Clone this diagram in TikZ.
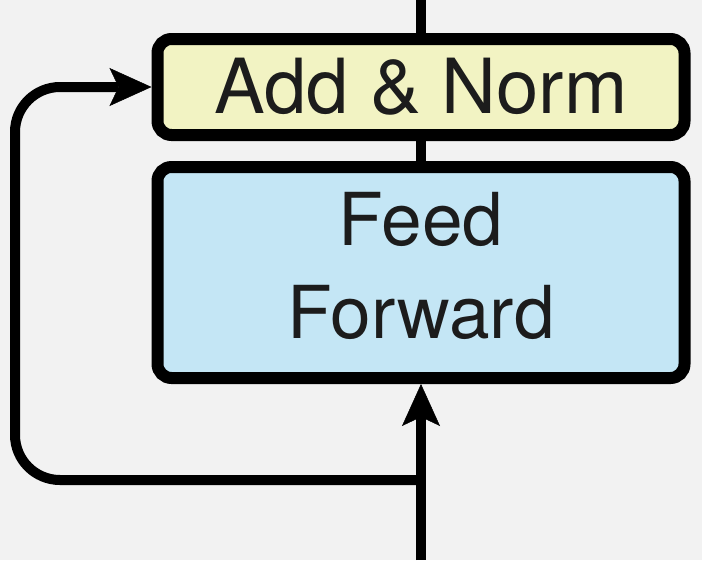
\documentclass[tikz,border=0pt]{standalone}
\usepackage{fontspec}
\setmainfont{TeX Gyre Heros}
\usetikzlibrary{arrows.meta}

\definecolor{bggray}{HTML}{F2F2F2}
\definecolor{normyellow}{HTML}{F2F3C3}
\definecolor{ffblue}{HTML}{C4E6F5}
\definecolor{inkgray}{HTML}{1C1C1C}

\tikzset{
    block/.style={draw=black, line width=12pt, rounded corners=14pt,
        minimum width=527pt, inner sep=0pt, text=inkgray, align=center},
    wire/.style={draw=black, line width=10pt},
    flowarrow/.style={-{Stealth[length=42pt, width=38pt, inset=9pt, line width=0.5pt]}}
}

\begin{document}
\begin{tikzpicture}[x=1pt, y=-1pt]
    \def\xc{421}
    % Canvas
    \fill[bggray] (0,0) rectangle (702,560);
    \useasboundingbox (0,0) rectangle (702,560);

    % Sublayer boxes
    \node[block, fill=normyellow, minimum height=96pt,
        font=\fontsize{76}{90}\selectfont] (addnorm) at (\xc,87) {Add \& Norm};
    \node[block, fill=ffblue, minimum height=211pt, text depth=15pt,
        font=\fontsize{73}{93}\selectfont] (ffwd) at (\xc,272.5) {Feed\\Forward};

    % Main path
    \coordinate (top) at (\xc,0);
    \coordinate (bottom) at (\xc,560);
    \draw[wire] (top) -- (addnorm);
    \draw[wire] (addnorm) -- (ffwd);
    \draw[wire, flowarrow] (bottom) -- (ffwd);

    % Residual connection
    \coordinate (branch) at (\xc,480);
    \coordinate (skip) at (15,480);
    \draw[wire, flowarrow, rounded corners=45pt] (branch) -- (skip) |- (addnorm.west);
\end{tikzpicture}
\end{document}
